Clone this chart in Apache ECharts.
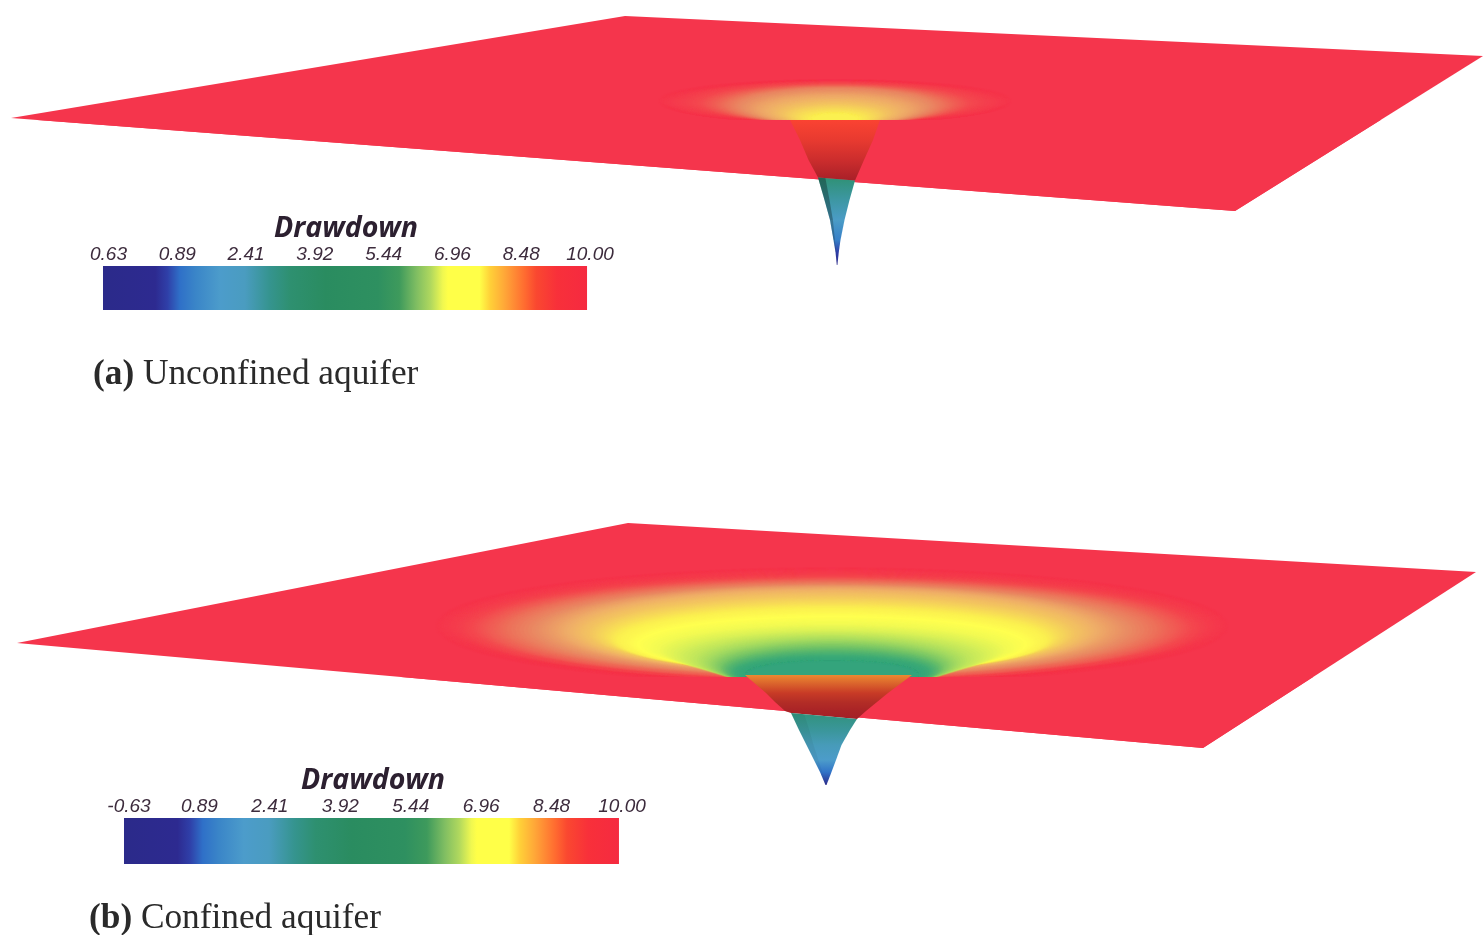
<!DOCTYPE html>
<html><head><meta charset="utf-8">
<script src="https://cdn.jsdelivr.net/npm/echarts@6/dist/echarts.min.js"></script>
<style>html,body{margin:0;padding:0;background:#fff}#c{width:1483px;height:935px}</style>
</head><body><div id="c"></div>
<script>
// colour bar
const tickValues=[0.63,0.89,2.41,3.92,5.44,6.96,8.48,10.00];
const tickLabelsA=['0.63','0.89','2.41','3.92','5.44','6.96','8.48','10.00'];
const tickLabelsB=['-0.63','0.89','2.41','3.92','5.44','6.96','8.48','10.00'];
const barPos=[0,.108,.133,.159,.191,.242,.293,.344,.387,.46,.568,.612,.648,.677,.702,.713,.778,.8,.829,.872,.895,.938,1];
const barColors=['#2B2A8A','#2D2A90','#2F3FA8','#2F70C8','#3A85C8','#4C9CCB','#4A9CC0','#35948F','#2E9070','#2A8C60','#2E9060','#3E9A5C','#80BE62','#B0D85E','#F0F850','#FFFF48','#FFFF48','#FFD038','#FFA838','#FF6A30','#FA4830','#F8303A','#F52A40'];
// surface shading on the flat sheet (value -> colour)
const surfValues=[10,9.6,9.1,8.6,8.1,7.6,7.1,6.95,6.5,6.0,5.5,5.0,4.8];
const surfColors=['#F5354C','#F4474F','#EE6A58','#E98C64','#EFAE68','#F5D05C','#FBF050','#FFFF50','#D8F058','#A8DC60','#70C268','#38A878','#2FA080'];
// sheets: corners
const planeAX=[11,625,1483,1235], planeAY=[118,16,56,211];
const planeBX=[17,628,1476,1203], planeBY=[643,523,572,748];
const planeColor='#F5354C';
// drawdown halo rings, outer to inner
const rimA={x:835,y:120}, rimB={x:832,y:677};
const ringRxA=[175,165,150,135,122,110,98,86,74,62,52,42,32,22];
const ringCyA=[101,102,102,103,104,105,106,108,110,112,114,116,118,119];
const ringRyA=[20,20,19.5,19,18.5,18,17.5,16,14.5,12.5,10.5,8.5,6.5,4.5];
const ringValA=[9.98,9.9,9.75,9.55,9.3,9.0,8.7,8.45,8.2,8.0,7.8,7.55,7.3,7.1];
const ringRxB=[395,385,375,365,355,340,325,300,280,262,245,228,215,195,175,155,135,122,112,105,97,85];
const ringCyB=[626,626,627,628,628,629,629,630,630,631,633,636,640,644,649,655,660,664,667,670,672,675];
const ringRyB=[57,55,53,52,50,49,47,45,43,41,38,34,32,28,25,24,24,23,21,19,16,13];
const ringValB=[9.98,9.9,9.8,9.65,9.5,9.25,9.0,8.65,8.35,8.05,7.8,7.45,7.1,6.95,6.8,6.5,6.2,5.9,5.6,5.3,5.05,4.9];
// cone slices, top to tip
const coneYA=[120,140,160,179,179,200,220,240,252,265];
const coneLA=[790,800,808.5,818,818,824.5,830,833.5,835.5,836.8];
const coneRA=[880,873,864,855,855,849.5,844.5,840.5,838.8,837.4];
const coneValA=[8.9,9,9.15,9.4,3.3,2.7,2.1,1.2,0.85,0.63];
const coneShadeA=[1,.93,.82,.68,1,1,1,1,1,1];
const coneEdgeA=[0,0,0,0,.4,.38,.3,.2,.08,0];
const coneTiltA=[0,0,0,1.5,1.5,0,0,0,0,0];
const coneYB=[675,693,702,711,716,716,730,745,760,772,785];
const coneLB=[745,766,775,785,791,791,799,806.5,814,820,825.5];
const coneRB=[912,888,877,866,857,857,850,841.5,836,831.5,826.5];
const coneValB=[8.25,8.8,9.0,9.2,9.4,3.2,2.8,2.45,1.9,1.0,0.63];
const coneShadeB=[.92,.8,.72,.68,.66,1,1,1,1,1,1];
const coneEdgeB=[0,0,0,0,0,.06,.06,.06,.05,.03,0];
const coneTiltB=[0,0,0,0,3,3,0,0,0,0,0];
// text
const legendTitle='Drawdown';
const captionA=['(a)','Unconfined aquifer'];
const captionB=['(b)','Confined aquifer'];

function hex(c){return [1,3,5].map(i=>parseInt(c.substr(i,2),16));}
function mix(a,b,t,s){s=s==null?1:s;const A=hex(a),B=hex(b);
  const r=A.map((v,i)=>Math.round((v+(B[i]-v)*t)*s));return 'rgb('+r.join(',')+')';}
function barColorAt(f){for(let i=1;i<barPos.length;i++){if(f<=barPos[i]){
  return [barColors[i-1],barColors[i],(f-barPos[i-1])/(barPos[i]-barPos[i-1])];}}
  return [barColors[barColors.length-1],barColors[barColors.length-1],0];}
function valueToFrac(v){let t=7;for(let i=1;i<tickValues.length;i++){if(v<=tickValues[i]){
  t=i-1+(v-tickValues[i-1])/(tickValues[i]-tickValues[i-1]);break;}}
  return (6+68.7*t)/484;}
function coneColor(v,s){const c=barColorAt(valueToFrac(v));return mix(c[0],c[1],c[2],s);}
function surfColor(v){for(let i=1;i<surfValues.length;i++){if(v>=surfValues[i]){
  return mix(surfColors[i-1],surfColors[i],(surfValues[i-1]-v)/(surfValues[i-1]-surfValues[i]));}}
  return mix(surfColors[surfColors.length-1],surfColors[surfColors.length-1],0);}

const planeData=[[...planeAX,...planeAY],[...planeBX,...planeBY]];
function ringRows(rim,rx,cy,ry,val){return rx.map((r,i)=>{const n=Math.min(i+1,rx.length-1);
  return [rim.x,cy[i],r,ry[i],val[i],rim.y,cy[n],rx[n],ry[n],val[n]];});}
const ringData=[...ringRows(rimA,ringRxA,ringCyA,ringRyA,ringValA),...ringRows(rimB,ringRxB,ringCyB,ringRyB,ringValB)];
const frontData=[[...planeAX,...planeAY,rimA.y],[...planeBX,...planeBY,rimB.y]];
function coneRows(Y,L,R,V,S,E,T){const o=[];for(let i=0;i<Y.length-1;i++){
  if(Y[i]===Y[i+1])continue;
  o.push([Y[i],L[i],R[i],Y[i+1],L[i+1],R[i+1],V[i],V[i+1],S[i],S[i+1],E[i],T[i],T[i+1]]);}return o;}
const coneData=[...coneRows(coneYA,coneLA,coneRA,coneValA,coneShadeA,coneEdgeA,coneTiltA),
                ...coneRows(coneYB,coneLB,coneRB,coneValB,coneShadeB,coneEdgeB,coneTiltB)];

function renderPlane(p,api){const pts=[0,1,2,3].map(i=>api.coord([api.value(i),api.value(4+i)]));
  return {type:'polygon',shape:{points:pts},style:{fill:planeColor}};}
function renderRing(p,api){const cx=api.value(0),cy=api.value(1),rx=api.value(2),ry=api.value(3),v=api.value(4),rim=api.value(5),
    cy2=api.value(6),rx2=api.value(7),ry2=api.value(8),v2=api.value(9);
  // smooth shading across the band between this ring and the next one
  const kids=[];const steps=6;
  for(let s=0;s<steps;s++){const t=s/steps,X=rx+(rx2-rx)*t,Y=cy+(cy2-cy)*t,R=ry+(ry2-ry)*t,V=v+(v2-v)*t,pts=[];
    for(let k=0;k<72;k++){const a=k/72*2*Math.PI;
      pts.push(api.coord([cx+X*Math.cos(a),Math.min(rim,Y+R*Math.sin(a))]));}
    const c=surfColor(V);
    kids.push({type:'polygon',shape:{points:pts},style:{fill:c,shadowBlur:2,shadowColor:c}});}
  return {type:'group',children:kids};}
function renderFront(p,api){ // part of the sheet in front of the well rim
  const poly=[0,1,2,3].map(i=>[api.value(i),api.value(4+i)]),rim=api.value(8),out=[];
  for(let i=0;i<4;i++){const a=poly[i],b=poly[(i+1)%4];
    if(a[1]>=rim)out.push(a);
    if((a[1]>=rim)!==(b[1]>=rim)){const t=(rim-a[1])/(b[1]-a[1]);out.push([a[0]+(b[0]-a[0])*t,rim]);}}
  return {type:'polygon',shape:{points:out.map(q=>api.coord(q))},style:{fill:planeColor}};}
function renderCone(p,api){const y0=api.value(0),l0=api.value(1),r0=api.value(2),y1=api.value(3),l1=api.value(4),r1=api.value(5),
  v0=api.value(6),v1=api.value(7),s0=api.value(8),s1=api.value(9),e=api.value(10),t0=api.value(11),t1=api.value(12);
  const pts=[[l0,y0-t0],[r0,y0+t0],[r1,y1+t1],[l1,y1-t1]].map(q=>api.coord(q));
  const kids=[{type:'polygon',shape:{points:pts},style:{fill:new echarts.graphic.LinearGradient(0,0,0,1,[{offset:0,color:coneColor(v0,s0)},{offset:1,color:coneColor(v1,s1)}])}}];
  if(e>0){const w0=(r0-l0)*.2,w1=(r1-l1)*.2;
    kids.push({type:'polygon',shape:{points:[[l0,y0-t0],[l0+w0,y0-t0*.5],[l1+w1,y1-t1*.5],[l1,y1-t1]].map(q=>api.coord(q))},style:{fill:'rgba(15,40,40,'+e+')'}});}
  return {type:'group',children:kids};}
function renderBar(p,api){const a=api.coord([api.value(0),0]),b=api.coord([api.value(1),1]);
  return {type:'rect',shape:{x:a[0],y:b[1],width:b[0]-a[0],height:a[1]-b[1]},
    style:{fill:new echarts.graphic.LinearGradient(0,0,1,0,barPos.map((o,i)=>({offset:o,color:barColors[i]})))}};}

function barAxis(idx,labels){return {gridIndex:idx,type:'value',position:'top',min:0,max:7,interval:1,
  axisLine:{show:false},axisTick:{show:false},splitLine:{show:false},
  axisLabel:{show:true,margin:2,showMinLabel:true,showMaxLabel:true,hideOverlap:false,fontFamily:'Liberation Sans',fontStyle:'italic',fontSize:19,color:'#3d2c3d',
    formatter:v=>labels[Math.round(v)]}};}
function hiddenY(idx){return {gridIndex:idx,type:'value',min:0,max:1,show:false};}
function custom(name,render,data,ax,dims){return {name,type:'custom',renderItem:render,data,xAxisIndex:ax,yAxisIndex:ax,silent:true,animation:false,encode:dims};}
function dTitle(x,y){return {text:legendTitle,left:x,top:y,padding:0,textAlign:'center',textVerticalAlign:'middle',
  textStyle:{fontFamily:'Open Sans',fontStyle:'italic',fontWeight:'bold',fontSize:28.5,color:'#2c2030'}};}
function cap(c,x,y){return {text:'{b|'+c[0]+'} {r|'+c[1]+'}',left:x,top:y,padding:0,
  textStyle:{fontWeight:'normal',fontFamily:'Liberation Serif',fontSize:35,rich:{b:{fontFamily:'Liberation Serif',fontWeight:'bold',fontSize:35.3,color:'#2a2a2a'},r:{fontFamily:'Liberation Serif',fontWeight:'normal',fontSize:35.3,color:'#2a2a2a'}}}};}

const chart=echarts.init(document.getElementById('c'),null,{renderer:'canvas'});
chart.setOption({
  backgroundColor:'#ffffff',animation:false,tooltip:{show:false},
  title:[dTitle(346,229),dTitle(373,781),cap(captionA,93,357),cap(captionB,89,901)],
  grid:[{left:0,top:0,width:1483,height:935},{left:108.5,top:266,width:481.5,height:44},{left:129,top:818,width:493,height:46}],
  xAxis:[{gridIndex:0,type:'value',min:0,max:1483,show:false},barAxis(1,tickLabelsA),barAxis(2,tickLabelsB)],
  yAxis:[{gridIndex:0,type:'value',min:0,max:935,inverse:true,show:false},hiddenY(1),hiddenY(2)],
  series:[
    custom('sheet',renderPlane,planeData,0,{x:0,y:4}),
    custom('halo',renderRing,ringData,0,{x:0,y:1}),
    custom('front',renderFront,frontData,0,{x:0,y:4}),
    custom('cone',renderCone,coneData,0,{x:1,y:0}),
    custom('barA',renderBar,[[-0.08,6.957]],1,{x:[0,1]}),
    custom('barB',renderBar,[[-0.071,6.957]],2,{x:[0,1]})
  ]
});
</script></body></html>
